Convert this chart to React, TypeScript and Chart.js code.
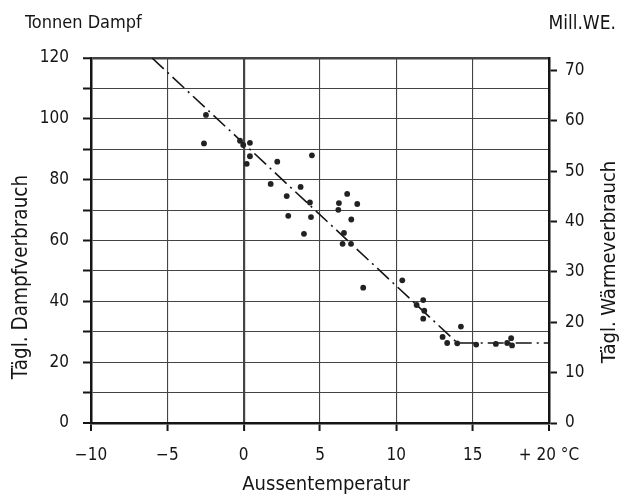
import React, { useEffect, useRef } from 'react';
import { Chart, registerables } from 'chart.js';

Chart.register(...registerables);

// ---- data ----
const tempC = [-2.47, -2.6, -0.24, -0.03, 0.41, 0.41, 0.2, 2.2, 1.77, 4.47, 3.73, 2.82, 4.34, 2.92, 4.41, 3.95, 6.78, 6.24, 6.2, 7.44, 7.05, 6.57, 6.48, 7.03, 7.83, 10.39, 11.33, 11.76, 11.83, 11.76, 14.23, 13.03, 13.33, 13.99, 15.23, 16.52, 17.26, 17.52, 17.58];
const steamTons = [101.3, 91.9, 92.8, 91.4, 92.1, 87.7, 85.2, 85.9, 78.6, 88.0, 77.6, 74.6, 72.5, 68.1, 67.7, 62.2, 75.3, 72.3, 70.1, 72.0, 66.9, 62.5, 58.9, 58.9, 44.5, 46.9, 38.8, 40.4, 36.9, 34.3, 31.7, 28.3, 26.3, 26.2, 25.8, 26.0, 26.3, 27.9, 25.5];
const trendTemp = [-6, 14, 20];
const trendSteam = [120, 26.3, 26.3];

const xTickValues = [-10, -5, 0, 5, 10, 15, 20];
const xTickLabels = ['\u221210', '\u22125', '0', '5', '10', '15', '+ 20 \u00b0C'];
const leftLabelStep = 20;
const rightMax = 72.5; // Mill. WE at top of frame (120 t)

const topLeftUnit = 'Tonnen Dampf';
const topRightUnit = 'Mill.WE.';
const xTitle = 'Aussentemperatur';
const leftTitle = 'T\u00e4gl. Dampfverbrauch';
const rightTitle = 'T\u00e4gl. W\u00e4rmeverbrauch';

const INK = '#151515';
const GRID = '#444444';
const TICK_FONT = "'Liberation Sans Narrow', 'DejaVu Sans Condensed', 'Liberation Sans', sans-serif";
const TITLE_FONT = "'DejaVu Sans Condensed', 'DejaVu Sans', sans-serif";

const titlePlugin = {
  id: 'extraTitles',
  beforeDraw(chart: any) {
    const { ctx, width, height } = chart;
    ctx.save();
    ctx.fillStyle = '#ffffff';
    ctx.fillRect(0, 0, width, height);
    ctx.restore();
  },
  afterDraw(chart: any) {
    const ctx = chart.ctx as CanvasRenderingContext2D;
    const area = chart.chartArea;
    ctx.save();
    ctx.fillStyle = INK;
    ctx.textBaseline = 'alphabetic';
    ctx.font = `18px ${TITLE_FONT}`;
    ctx.textAlign = 'left';
    ctx.fillText(topLeftUnit, 25, 28);
    ctx.textAlign = 'right';
    ctx.font = `19px ${TITLE_FONT}`;
    ctx.fillText(topRightUnit, 616, 29);

    ctx.font = `20px ${TITLE_FONT}`;
    ctx.textAlign = 'center';
    ctx.fillText(xTitle, (area.left + area.right) / 2 + 6, 490);

    ctx.textBaseline = 'middle';
    ctx.save();
    ctx.translate(22, 277);
    ctx.rotate(-Math.PI / 2);
    ctx.font = `20.5px ${TITLE_FONT}`;
    ctx.fillText(leftTitle, 0, 0);
    ctx.restore();

    ctx.save();
    ctx.translate(610, 262);
    ctx.rotate(-Math.PI / 2);
    ctx.font = `20px ${TITLE_FONT}`;
    ctx.fillText(rightTitle, 0, 0);
    ctx.restore();
    ctx.restore();
  },
};

export default function App() {
  const ref = useRef<HTMLCanvasElement>(null);

  useEffect(() => {
    if (!ref.current) return;
    const chart = new Chart(ref.current, {
      type: 'scatter',
      data: {
        datasets: [
          {
            label: 'Messwerte',
            data: tempC.map((x, i) => ({ x, y: steamTons[i] })),
            pointRadius: 2.9,
            pointHoverRadius: 2.9,
            backgroundColor: '#222222',
            borderWidth: 0,
            order: 0,
            yAxisID: 'y',
          },
          {
            label: 'Mittellinie',
            data: trendTemp.map((x, i) => ({ x, y: trendSteam[i] })),
            showLine: true,
            pointRadius: 0,
            borderColor: INK,
            borderWidth: 1.6,
            borderDash: [16, 5, 2, 5],
            order: 1,
            yAxisID: 'y',
          },
        ],
      },
      options: {
        animation: false,
        responsive: false,
        devicePixelRatio: 1,
        layout: { padding: { top: 58, left: 0, right: 0, bottom: 0 } },
        plugins: {
          legend: { display: false },
          tooltip: { enabled: false },
          title: { display: false },
        },
        scales: {
          x: {
            type: 'linear',
            min: -10,
            max: 20,
            afterFit: (s: any) => { s.height = 74; },
            afterBuildTicks: (s: any) => { s.ticks = xTickValues.map((v) => ({ value: v })); },
            ticks: {
              autoSkip: false,
              maxRotation: 0,
              padding: 14,
              color: INK,
              font: { family: TICK_FONT, size: 17 },
              callback: (v: any) => {
                const i = xTickValues.indexOf(Number(v));
                return i >= 0 ? xTickLabels[i] : '';
              },
            },
            grid: {
              color: GRID,
              lineWidth: (c: any) => (c.tick && c.tick.value === 0 ? 2.2 : (c.tick && (c.tick.value === -10 || c.tick.value === 20) ? 0 : 1.1)),
              tickLength: 8,
              tickWidth: 2,
              tickColor: INK,
            },
            border: { display: true, color: INK, width: 2.5 },
          },
          y: {
            type: 'linear',
            position: 'left',
            min: 0,
            max: 120,
            afterFit: (s: any) => { s.width = 91; },
            ticks: {
              stepSize: 10,
              autoSkip: false,
              padding: 14,
              color: INK,
              font: { family: TICK_FONT, size: 17 },
              callback: (v: any) => (Number(v) % leftLabelStep === 0 ? String(v) : ''),
            },
            grid: {
              color: GRID,
              lineWidth: (c: any) => (c.tick && c.tick.value === 120 ? 2.5 : (c.tick && c.tick.value === 0 ? 0 : 1)),
              tickLength: 8,
              tickWidth: 2,
              tickColor: INK,
            },
            border: { display: true, color: INK, width: 2.5 },
          },
          y2: {
            type: 'linear',
            position: 'right',
            min: 0,
            max: rightMax,
            afterFit: (s: any) => { s.width = 85; },
            ticks: {
              stepSize: 10,
              includeBounds: false,
              autoSkip: false,
              padding: 8,
              color: INK,
              font: { family: TICK_FONT, size: 17 },
            },
            grid: {
              drawOnChartArea: false,
              color: INK,
              tickLength: 8,
              tickWidth: 2,
              tickColor: INK,
            },
            border: { display: true, color: INK, width: 2.5 },
          },
        },
      },
      plugins: [titlePlugin],
    } as any);
    return () => chart.destroy();
  }, []);

  return (
    <canvas
      ref={ref}
      width={634}
      height={497}
      style={{ display: 'block', position: 'fixed', left: 0, top: 0, width: 634, height: 497 }}
    />
  );
}
